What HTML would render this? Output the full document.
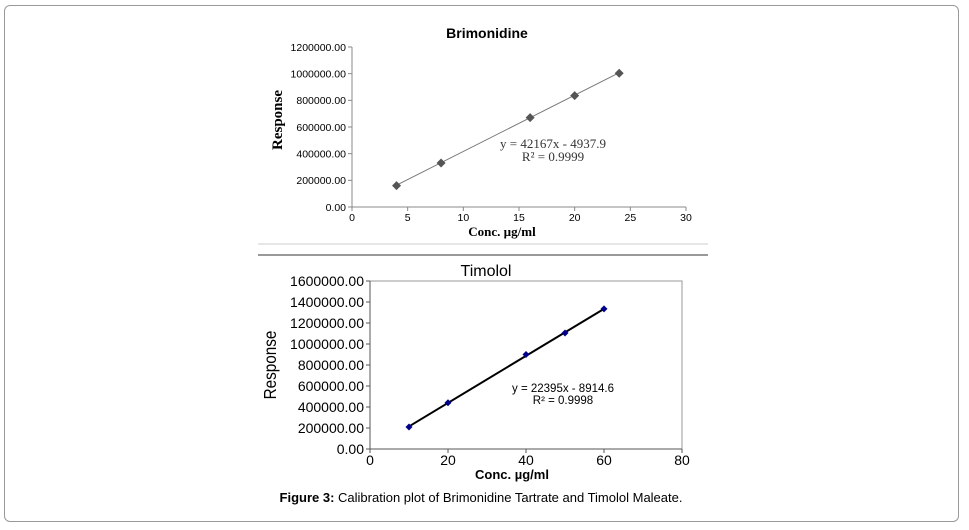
<!DOCTYPE html>
<html><head><meta charset="utf-8"><style>
html,body{margin:0;padding:0;background:#fff;width:969px;height:530px;overflow:hidden}
#frame{position:absolute;left:4px;top:5px;width:953px;height:515px;border:1.5px solid #999;border-radius:6px}
svg{position:absolute;left:0;top:0}
</style></head><body>
<div id="frame"></div>
<svg width="969" height="530">
<line x1="258" y1="244" x2="708" y2="244" stroke="#ccc" stroke-width="1"/>
<line x1="258" y1="255" x2="708" y2="255" stroke="#999" stroke-width="2"/>
<g id="brim"></g>
<g id="tim"></g>
<text x="481" y="502" text-anchor="middle" font-family="Liberation Sans, sans-serif" font-size="13" fill="#000"><tspan font-weight="bold">Figure 3:</tspan> Calibration plot of Brimonidine Tartrate and Timolol Maleate.</text>
</svg>
<script>
const brimX=[4,8,16,20,24];
const brimY=[160000,330000,670000,835000,1003000];
const brimXTicks=[0,5,10,15,20,25,30];
const brimYTicks=[0,200000,400000,600000,800000,1000000,1200000];
const brimSlope=42167, brimIntercept=-4937.9;
const timX=[10,20,40,50,60];
const timY=[210000,440000,900000,1105000,1335000];
const timXTicks=[0,20,40,60,80];
const timYTicks=[0,200000,400000,600000,800000,1000000,1200000,1400000,1600000];
const timSlope=22395, timIntercept=-8914.6;
const NS='http://www.w3.org/2000/svg';
function mk(p,t,a,txt){const e=document.createElementNS(NS,t);for(const k in a)e.setAttribute(k,a[k]);if(txt!==undefined)e.textContent=txt;p.appendChild(e);return e;}
function draw(g,o){
  const sx=v=>o.x0+(v-o.xmin)/(o.xmax-o.xmin)*(o.x1-o.x0);
  const sy=v=>o.y0-(v-o.ymin)/(o.ymax-o.ymin)*(o.y0-o.y1);
  if(o.box){const r=mk(g,'rect',{x:o.x0,y:o.y1,width:o.x1-o.x0,height:o.y0-o.y1,fill:'none',stroke:'#999','stroke-width':1});
    
    }
  const ax=mk(g,'line',{x1:o.x0,y1:o.y0,x2:o.x1,y2:o.y0,stroke:o.axc,'stroke-width':1});
  
  
  const ay=mk(g,'line',{x1:o.x0,y1:o.y0,x2:o.x0,y2:o.y1,stroke:o.axc,'stroke-width':1});
  
  
  o.yt.forEach(v=>{
    mk(g,'line',{x1:o.x0-4,y1:sy(v),x2:o.x0,y2:sy(v),stroke:o.axc});
    const t=mk(g,'text',{x:o.x0-6,y:sy(v)+o.tfs*0.36,'text-anchor':'end','font-family':'Liberation Sans, sans-serif','font-size':o.tfs,fill:'#000'},v.toFixed(2));
    
    
  });
  o.xt.forEach(v=>{
    mk(g,'line',{x1:sx(v),y1:o.y0,x2:sx(v),y2:o.y0+4,stroke:o.axc});
    const t=mk(g,'text',{x:sx(v),y:o.y0+o.xoff,'text-anchor':'middle','font-family':'Liberation Sans, sans-serif','font-size':o.tfs,fill:'#000'},String(v));
    
    
  });
  const xa=o.xs[0],xb=o.xs[o.xs.length-1];
  const tl=mk(g,'line',{x1:sx(xa),y1:sy(o.m*xa+o.b),x2:sx(xb),y2:sy(o.m*xb+o.b),stroke:o.lc,'stroke-width':o.lw});
  
  
  o.xs.forEach((x,i)=>{
    const cx=sx(x),cy=sy(o.ys[i]),s=o.ms;
    const p=mk(g,'polygon',{points:`${cx},${cy-s} ${cx+s},${cy} ${cx},${cy+s} ${cx-s},${cy}`,fill:o.mc});
    
    
  });
}
const bg=document.getElementById('brim');
draw(bg,{x0:352,x1:686,y0:207,y1:47,xmin:0,xmax:30,ymin:0,ymax:1200000,xt:brimXTicks,yt:brimYTicks,xs:brimX,ys:brimY,m:brimSlope,b:brimIntercept,axc:'#888',lc:'#777',lw:1,mc:'#555',ms:4.5,tfs:10.5,xoff:14,box:false});
const tg=document.getElementById('tim');
draw(tg,{x0:370,x1:682,y0:449,y1:281,xmin:0,xmax:80,ymin:0,ymax:1600000,xt:timXTicks,yt:timYTicks,xs:timX,ys:timY,m:timSlope,b:timIntercept,axc:'#555',lc:'#000',lw:2,mc:'#00008b',ms:3.5,tfs:14,xoff:16,box:true});
function txt(p,a,s,n){const e=mk(p,'text',a,s);return e;}
txt(bg,{x:487,y:38,'text-anchor':'middle','font-family':'Liberation Sans, sans-serif','font-size':14,'font-weight':'bold'},'Brimonidine','chart-title');
txt(bg,{x:553,y:148,'text-anchor':'middle','font-family':'Liberation Serif, serif','font-size':13,fill:'#333'},'y = 42167x - 4937.9','equation-label');
txt(bg,{x:553,y:161,'text-anchor':'middle','font-family':'Liberation Serif, serif','font-size':13,fill:'#333'},'R² = 0.9999','r-squared-label');
txt(bg,{x:502,y:236,'text-anchor':'middle','font-family':'Liberation Serif, serif','font-size':13,'font-weight':'bold','xml:space':'preserve'},'Conc.    µg/ml','x-axis-title');
txt(bg,{x:0,y:0,'text-anchor':'middle','font-family':'Liberation Serif, serif','font-size':15,'font-weight':'bold',transform:'translate(282,120) rotate(-90)'},'Response','y-axis-title');
txt(tg,{x:486,y:276,'text-anchor':'middle','font-family':'Liberation Sans, sans-serif','font-size':16},'Timolol','chart-title');
txt(tg,{x:563,y:392,'text-anchor':'middle','font-family':'Liberation Sans, sans-serif','font-size':11.5},'y = 22395x - 8914.6','equation-label');
txt(tg,{x:563,y:404,'text-anchor':'middle','font-family':'Liberation Sans, sans-serif','font-size':11.5},'R² = 0.9998','r-squared-label');
txt(tg,{x:512,y:479,'text-anchor':'middle','font-family':'Liberation Sans, sans-serif','font-size':13,'font-weight':'bold','xml:space':'preserve'},'Conc.    µg/ml','x-axis-title');
txt(tg,{x:0,y:0,'text-anchor':'middle','font-family':'Liberation Sans, sans-serif','font-size':18,transform:'translate(276,365) rotate(-90) scale(0.85,1)'},'Response','y-axis-title');
</script>
</body></html>
